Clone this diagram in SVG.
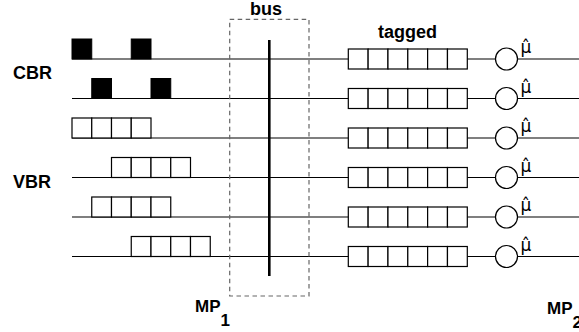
<svg xmlns="http://www.w3.org/2000/svg" width="579" height="332" viewBox="0 0 579 332">
<style>
.lbl{font-family:"Liberation Sans",Arial,Helvetica,sans-serif;font-weight:bold;font-size:18px;fill:#000}
.mp{font-family:"Liberation Sans",Arial,Helvetica,sans-serif;font-weight:bold;font-size:17px;fill:#000}
.mu{font-family:"DejaVu Sans",sans-serif;font-size:17px;fill:#000}
.ln{stroke:#000;stroke-width:1.1;fill:none}
.cell{fill:#fff;stroke:#000;stroke-width:1.2}
.blk{fill:#000;stroke:#000;stroke-width:1}
.srv{fill:#fff;stroke:#000;stroke-width:1.2}
.busbox{fill:none;stroke:#666;stroke-width:1.2;stroke-dasharray:4.5 3.5}
</style>
<defs>
<g id="cell4">
<rect class="cell" x="0" y="0" width="19.75" height="20"/>
<rect class="cell" x="19.75" y="0" width="19.75" height="20"/>
<rect class="cell" x="39.5" y="0" width="19.75" height="20"/>
<rect class="cell" x="59.25" y="0" width="19.75" height="20"/>
</g>
<g id="queue6">
<rect class="cell" x="0" y="-10" width="19.83" height="20"/>
<rect class="cell" x="19.83" y="-10" width="19.83" height="20"/>
<rect class="cell" x="39.67" y="-10" width="19.83" height="20"/>
<rect class="cell" x="59.5" y="-10" width="19.83" height="20"/>
<rect class="cell" x="79.33" y="-10" width="19.83" height="20"/>
<rect class="cell" x="99.17" y="-10" width="19.83" height="20"/>
</g>
</defs>
<rect width="579" height="332" fill="#fff"/>

<g id="connectors">
<line class="ln" x1="72" y1="59" x2="579" y2="59"/>
<line class="ln" x1="72" y1="98.5" x2="579" y2="98.5"/>
<line class="ln" x1="72" y1="138" x2="579" y2="138"/>
<line class="ln" x1="72" y1="177.5" x2="579" y2="177.5"/>
<line class="ln" x1="72" y1="217" x2="579" y2="217"/>
<line class="ln" x1="72" y1="256.5" x2="579" y2="256.5"/>
</g>

<g id="bus">
<rect class="busbox" x="229.7" y="19.3" width="79.3" height="276.7"/>
<line x1="269.3" y1="40" x2="269.3" y2="276" stroke="#000" stroke-width="2.6"/>
<text class="lbl" x="250" y="15">bus</text>
</g>

<g id="cbr">
<text class="lbl" x="13" y="79">CBR</text>
<rect class="blk" x="72" y="39" width="19.75" height="20"/>
<rect class="blk" x="131.25" y="39" width="19.75" height="20"/>
<rect class="blk" x="91.75" y="78.5" width="19.75" height="20"/>
<rect class="blk" x="151" y="78.5" width="19.75" height="20"/>
</g>

<g id="vbr">
<text class="lbl" x="13" y="188">VBR</text>
<use href="#cell4" x="72" y="118"/>
<use href="#cell4" x="111.5" y="157.5"/>
<use href="#cell4" x="91.75" y="197"/>
<use href="#cell4" x="131.25" y="236.5"/>
</g>

<g id="tagged">
<text class="lbl" x="378" y="38">tagged</text>
<use href="#queue6" x="348.3" y="59"/>
<use href="#queue6" x="348.3" y="98.5"/>
<use href="#queue6" x="348.3" y="138"/>
<use href="#queue6" x="348.3" y="177.5"/>
<use href="#queue6" x="348.3" y="217"/>
<use href="#queue6" x="348.3" y="256.5"/>
</g>

<g id="servers">
<circle class="srv" cx="506.5" cy="59" r="11"/>
<circle class="srv" cx="506.5" cy="98.5" r="11"/>
<circle class="srv" cx="506.5" cy="138" r="11"/>
<circle class="srv" cx="506.5" cy="177.5" r="11"/>
<circle class="srv" cx="506.5" cy="217" r="11"/>
<circle class="srv" cx="506.5" cy="256.5" r="11"/>
<text class="mu" x="520.5" y="53">μ̂</text>
<text class="mu" x="520.5" y="92.5">μ̂</text>
<text class="mu" x="520.5" y="132">μ̂</text>
<text class="mu" x="520.5" y="171.5">μ̂</text>
<text class="mu" x="520.5" y="211">μ̂</text>
<text class="mu" x="520.5" y="250.5">μ̂</text>
</g>

<g id="mp1">
<text class="mp" x="195" y="312.3">MP<tspan y="325.7">1</tspan></text>
</g>
<g id="mp2">
<text class="mp" x="547" y="314.3">MP<tspan y="328">2</tspan></text>
</g>
</svg>
